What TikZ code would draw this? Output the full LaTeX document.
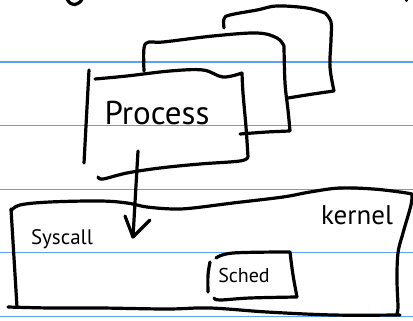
\documentclass[tikz,border=0pt]{standalone}
\usepackage{fontspec}
\setmainfont{PT Sans}
\usetikzlibrary{calc}
\definecolor{ruling}{HTML}{5AA2F2}
\tikzset{
  ink/.style={draw=black, line width=3.2pt, line cap=round, line join=round},
  ruled/.style={draw=ruling, line width=1.3pt},
  label/.style={inner sep=0pt, text=black},
}
\begin{document}
\begin{tikzpicture}[x=1pt, y=-1pt]
  \useasboundingbox (0,0) rectangle (413,321);
  \fill[white] (0,0) rectangle (413,321);

  % notebook ruling
  \foreach \yy in {62,125.6,189.2,252.8,316.4}
    \draw[ruled] (0,\yy) -- (413,\yy);

  % stray strokes at the top edge
  \draw[ink] plot[smooth] coordinates {(67,-1) (70,3) (75,4.5) (80,2) (82,-1)};
  \fill (406.5,0.5) circle (1.6pt);

  % back process sheet
  \draw[ink] plot[smooth, tension=0.6] coordinates {(224,28) (224,19) (230,15) (257,10) (277,6) (307,8) (325,13)}
             plot[smooth, tension=0.6] coordinates {(325,13) (331,22) (331,40) (330,67) (334,91)}
             plot[smooth, tension=0.6] coordinates {(334,91) (313,94) (288,98)};

  % middle process sheet
  \draw[ink] plot[smooth, tension=0.6] coordinates {(144,71) (144,48) (149,42) (163,42) (213,36) (257,33) (277,38) (284,46)}
             plot[smooth, tension=0.6] coordinates {(284,46) (285,83) (288,110) (290,131)}
             plot[smooth, tension=0.6] coordinates {(290,131) (267,132) (240,134)};

  % front process sheet
  \draw[ink] (89,70) -- (84,163);
  \draw[ink] plot[smooth, tension=0.6] coordinates {(95,79) (127,76) (170,71) (203,70) (223,77) (242,73)}
             plot[smooth, tension=0.6] coordinates {(242,73) (243,93) (246,127) (248,157)}
             plot[smooth, tension=0.6] coordinates {(248,157) (240,161) (200,164) (160,168) (127,173) (103,179) (98,177)};
  \node[label, font=\fontsize{33}{33}\selectfont] (proc) at (157,113) {Process};

  % kernel region
  \draw[ink] plot[smooth, tension=0.6] coordinates {(11,211) (20,205) (50,202) (100,201) (127,203) (147,207) (173,209) (193,208) (233,203) (283,197) (310,192) (340,188) (373,189) (400,192) (412,194)}
             plot[smooth, tension=0.6] coordinates {(412,194) (411,205) (403,233) (398,253) (397,280) (398,307) (397,314) (400,315)}
             plot[smooth, tension=0.6] coordinates {(8,307) (50,308) (100,308) (167,309) (210,308) (267,312) (333,315) (397,315)};
  \draw[ink] (11,209) -- (17,307);
  \node[label, font=\fontsize{27}{27}\selectfont] (kernel) at (357,215) {kernel};
  \node[label, font=\fontsize{21}{21}\selectfont] (syscall) at (62,239) {Syscall};

  % scheduler block
  \draw[ink] plot[smooth, tension=0.6] coordinates {(210,262) (208,275) (208,292)};
  \draw[ink] plot[smooth, tension=0.6] coordinates {(216,258) (233,253) (290,252)}
             plot[smooth, tension=0.6] coordinates {(290,252) (293,275) (297,297)}
             plot[smooth, tension=0.6] coordinates {(297,297) (250,298) (220,300) (214,298)};
  \node[label, font=\fontsize{20}{20}\selectfont] (sched) at (244,275) {Sched};

  % system call arrow from the process into the kernel
  \coordinate (callfrom) at (138,151);
  \coordinate (callto) at (133,237);
  \draw[ink] (callfrom) -- (callto);
  \draw[ink] ($(callto)+(-8,-21)$) -- (callto) -- ($(callto)+(17,-17)$);
\end{tikzpicture}
\end{document}
